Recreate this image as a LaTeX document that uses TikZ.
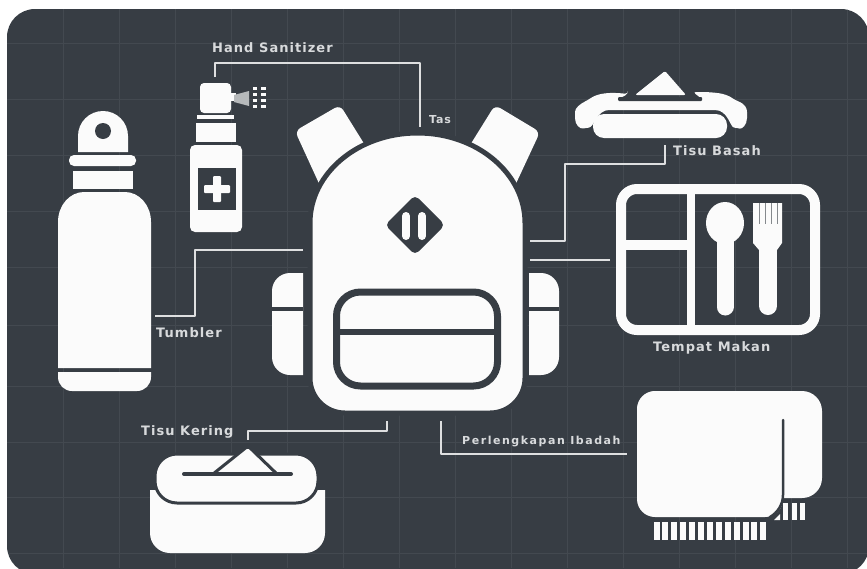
\documentclass[tikz,border=0pt]{standalone}
\usepackage{fontspec}
\setmainfont{DejaVu Sans}
\newfontfamily\tagfont[LetterSpace=8]{DejaVu Sans Bold}
\newfontfamily\smalltagfont[LetterSpace=14]{DejaVu Sans Bold}
\usepackage{tikz}
\usetikzlibrary{calc,positioning}
\definecolor{slate}{HTML}{373D44}
\definecolor{slateline}{HTML}{434950}
\definecolor{paper}{HTML}{FBFBFB}
\definecolor{caption}{HTML}{D8DADC}
\tikzset{x=1pt, y=-1pt}
\tikzset{font=\normalsize}
\tikzset{solid part/.style={fill=paper, draw=none},
  cut part/.style={fill=slate, draw=none},
  gap part/.style={draw=slate, line width=#1},
  callout/.style={draw=paper!85!slate, line width=2pt, line join=round},
  tag/.style={text=caption, font=\tagfont\fontsize{13}{15}\selectfont, inner sep=0pt}
}
\begin{document}
\begin{tikzpicture}
  \useasboundingbox (0,0) rectangle (867,568);
  % panel and its grid
  \fill[slate, rounded corners=28pt] (7,9) rectangle (869,574);
  \begin{scope}
    \clip[rounded corners=28pt] (7,9) rectangle (869,574);
    \foreach \x in {63,119,175,231,287,343,399,455,511,567,623,679,735,791,847}
      \draw[slateline, line width=1pt] (\x,9) -- (\x,568);
    \foreach \y in {43,99,155,211,267,325,386,442,497,553}
      \draw[slateline, line width=1pt] (7,\y) -- (867,\y);
  \end{scope}

  % tumbler
  \fill[solid part] (78,152) -- (78,136) arc[start angle=180, end angle=360, radius=25] -- (128,152) -- cycle;
  \fill[cut part] (103,131) circle[radius=8];
  \fill[solid part, rounded corners=5pt] (69,155) rectangle (136,166);
  \fill[solid part] (73,171) rectangle (133,189);
  \fill[solid part] (58,368) -- (58,222) .. controls (58,205) and (70,192) .. (84,192)
    -- (125,192) .. controls (139,192) and (151,205) .. (151,222) -- (151,368) -- cycle;
  \fill[solid part, rounded corners=14pt] (58,372) -- (58,391) -- (151,391) -- (151,372);
  \fill[solid part] (58,372) rectangle (151,378);

  % hand sanitizer
  \fill[solid part, rounded corners=4pt] (200,113) -- (200,83) -- (231,83) -- (231,113) -- cycle;
  \fill[solid part] (230,93) rectangle (236,101);
  \fill[solid part] (197,115) rectangle (234,119);
  \fill[solid part] (196,123) rectangle (236,142);
  \fill[solid part, rounded corners=5pt] (190,145) rectangle (242,232);
  \fill[cut part] (198,168) rectangle (236,210);
  \fill[solid part, rounded corners=1pt] (213,176) rectangle (221,202);
  \fill[solid part, rounded corners=1pt] (204,185) rectangle (230,193);
  \fill[paper!65!slate] (234,95) -- (249,91) -- (249,106) -- (234,102) -- cycle;
  \foreach \y in {87,93,99,105}{
    \fill[paper] (253,\y) rectangle (257,\y+3);
    \fill[paper] (261,\y) rectangle (266,\y+3);
  }

  % backpack
  \fill[solid part, rounded corners=6pt] (295,131) -- (340,105) -- (368,150) -- (322,190) -- cycle;
  \fill[solid part, rounded corners=6pt] (540,132) -- (495,105) -- (467,150) -- (513,190) -- cycle;
  \fill[solid part, rounded corners=18pt] (303,273) -- (272,273) -- (272,375) -- (303,375);
  \fill[solid part] (290,273) rectangle (303,375);
  \fill[solid part, rounded corners=18pt] (529,273) -- (559,273) -- (559,375) -- (529,375);
  \fill[solid part] (529,273) rectangle (542,375);
  \fill[cut part] (272,307) rectangle (303,311);
  \fill[cut part] (529,307) rectangle (559,311);
  \path[solid part, gap part=5pt] (310,223) arc[x radius=107.5, y radius=90, start angle=180, end angle=360]
    -- (525,378) arc[start angle=0, end angle=90, radius=35] -- (345,413)
    arc[start angle=90, end angle=180, radius=35] -- cycle;
  \fill[cut part, rounded corners=5pt] (415,195) -- (445,225) -- (415,255) -- (385,225) -- cycle;
  \foreach \x in {406,422}
    \draw[paper, line width=8pt, line cap=round] (\x,216) -- (\x,236);
  \draw[slate, line width=7pt, rounded corners=24pt] (336.5,292) rectangle (497.5,386);
  \fill[cut part] (336,329) rectangle (498,335);

  % wet wipes
  \fill[solid part, rounded corners=2pt] (665,71) -- (686,95) -- (635,95) -- cycle;
  \fill[solid part, rounded corners=3pt] (628,94) -- (618,99) -- (702,99) -- (693,92)
    .. controls (715,92) and (725,93) .. (735,100) .. controls (745,104) and (747,108) .. (747,115)
    .. controls (747,125) and (742,129) .. (737,128) .. controls (730,127) and (728,110) .. (712,110)
    -- (612,110) .. controls (597,110) and (594,127) .. (586,128)
    .. controls (580,129) and (575,125) .. (575,115) .. controls (575,108) and (580,104) .. (588,100)
    .. controls (598,93) and (610,92) .. cycle;
  \fill[cut part, rounded corners=1pt] (618,97) rectangle (702,101);
  \fill[solid part, rounded corners=11pt] (593,114) rectangle (727,138);

  % lunch box
  \draw[paper, line width=10pt, rounded corners=16pt] (621,189) rectangle (815,330);
  \fill[solid part] (687,189) rectangle (695,330);
  \fill[solid part] (621,240) rectangle (687,250);
  \fill[solid part] (725,223) ellipse[x radius=19, y radius=21];
  \draw[paper, line width=17pt, line cap=round] (725,235) -- (725,307);
  \fill[solid part] (753,203) -- (782,203) -- (782,243) -- (777,250) -- (759,250) -- (753,243) -- cycle;
  \draw[paper, line width=18pt, line cap=round] (768,245) -- (768,306);
  \foreach \x in {759,765,771,777}
    \draw[slate!60!paper, line width=1pt] (\x,203) -- (\x,224);

  % towel
  \fill[solid part, rounded corners=20pt] (637,391) rectangle (822,498);
  \fill[solid part, rounded corners=18pt] (637,391) rectangle (783,517);
  \draw[slate, line width=2.5pt, line cap=round] (783,420) -- (783,495) .. controls (783,505) and (777,513) .. (770,517);
  \foreach \x in {653.5,662.4,671.3,680.2,689.1,698,706.9,715.8,724.7,733.6,742.5,751.4,760.3}
    \fill[paper] (\x,522) rectangle (\x+6,540);
  \fill[paper] (774,520) -- (780,514) -- (780,520) -- cycle;
  \foreach \x in {783,792,800}
    \fill[paper] (\x,503) rectangle (\x+5,520);

  % dry tissue box
  \fill[solid part] (150,490) [rounded corners=20pt] -- (150,553) -- (325,553) [sharp corners] -- (325,490) -- cycle;
  \path[solid part, gap part=3pt, rounded corners=22pt] (155,454) rectangle (318,503);
  \path[solid part, gap part=3pt, rounded corners=2pt, line join=round] (213,474) -- (248,446) -- (277,474) -- cycle;
  \draw[slate, line width=4pt, line cap=round] (184,474) -- (291,474);

  % labels
  \node[tag, anchor=west] (sanitizerTag) at (212,48) {Hand Sanitizer};
  \node[tag, anchor=west, font=\tagfont\fontsize{11}{13}\selectfont] (bagTag) at (429,120) {Tas};
  \node[tag, anchor=west] (wetTag) at (673,151) {Tisu Basah};
  \node[tag, anchor=west] (boxTag) at (653,348) {Tempat Makan};
  \node[tag, anchor=west] (bottleTag) at (156,333) {Tumbler};
  \node[tag, anchor=west] (dryTag) at (141,432) {Tisu Kering};
  \node[tag, anchor=west, font=\smalltagfont\fontsize{11}{13}\selectfont] (prayerTag) at (462,442) {Perlengkapan Ibadah};

  % callouts
  \coordinate (sanitizerEnd) at (215,77);
  \coordinate (sanitizerBag) at (420,127);
  \coordinate (wetBag) at (530,241);
  \coordinate (wetEnd) at (665,145);
  \coordinate (boxBag) at (530,260);
  \coordinate (boxEnd) at (610,260);
  \coordinate (bottleBag) at (303,250);
  \coordinate (bottleEnd) at (155,316);
  \coordinate (dryBag) at (387,421);
  \coordinate (dryEnd) at (248,440);
  \coordinate (prayerBag) at (441,421);
  \coordinate (prayerEnd) at (627,454);
  \draw[callout] (sanitizerEnd) |- (420,63) -- (sanitizerBag);
  \draw[callout] (wetBag) -| (565,164) -| (wetEnd);
  \draw[callout] (boxBag) -- (boxEnd);
  \draw[callout] (bottleBag) -| (195,316) -- (bottleEnd);
  \draw[callout] (dryBag) |- (248,431) -- (dryEnd);
  \draw[callout] (prayerBag) |- (prayerEnd);
\end{tikzpicture}
\end{document}
